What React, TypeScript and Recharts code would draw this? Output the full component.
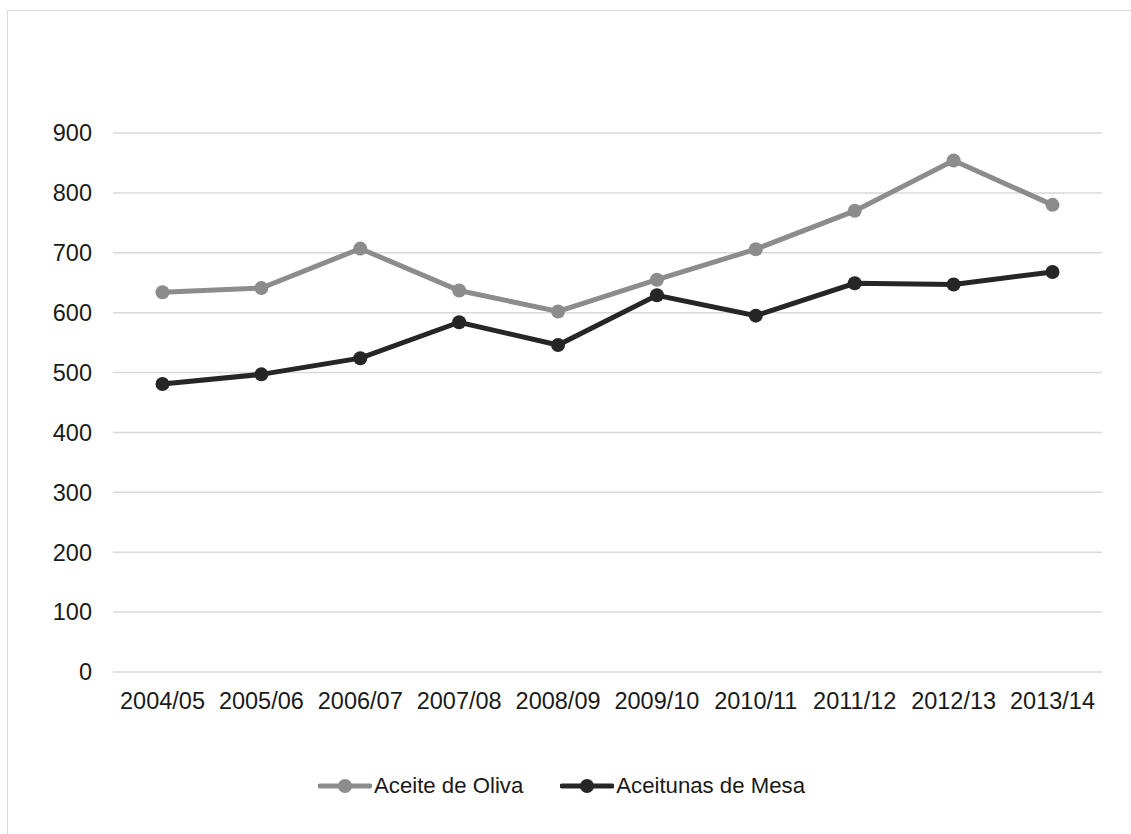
import React from 'react';
import { LineChart, Line, XAxis, YAxis, CartesianGrid, Legend } from 'recharts';

const categories = ['2004/05', '2005/06', '2006/07', '2007/08', '2008/09', '2009/10', '2010/11', '2011/12', '2012/13', '2013/14'];
const aceiteDeOliva = [634, 641, 707, 637, 602, 655, 706, 770, 854, 780];
const aceitunasDeMesa = [481, 497, 524, 584, 546, 629, 595, 649, 647, 668];
const yTicks = [0, 100, 200, 300, 400, 500, 600, 700, 800, 900];

const seriesNames = ['Aceite de Oliva', 'Aceitunas de Mesa'];
const seriesColors = ['#8c8c8c', '#262626'];

const data = categories.map((c, i) => ({
  cat: c,
  a: aceiteDeOliva[i],
  b: aceitunasDeMesa[i],
}));

const FONT = '"Liberation Sans", Arial, sans-serif';

const LegendContent = () => (
  <div style={{ display: 'flex', justifyContent: 'center', paddingLeft: 21, fontFamily: FONT, fontSize: 22.2, color: '#1a1a1a' }}>
    {seriesNames.map((n, i) => (
      <div key={n} style={{ display: 'flex', alignItems: 'center', marginLeft: i === 0 ? 0 : 37 }}>
        <svg width={54} height={16} style={{ marginRight: 2 }}>
          <line x1={2} y1={8} x2={52} y2={8} stroke={seriesColors[i]} strokeWidth={5} strokeLinecap="round" />
          <circle cx={27} cy={8} r={7} fill={seriesColors[i]} />
        </svg>
        <span>{n}</span>
      </div>
    ))}
  </div>
);

export default function App() {
  return (
    <div style={{ position: 'absolute', left: 0, top: 0, width: 1131, height: 834, overflow: 'hidden', background: '#fff' }}>
      <div style={{ position: 'absolute', left: 7, top: 10, width: 1140, height: 840, border: '1px solid #d9d9d9', boxSizing: 'border-box' }} />
      <div style={{ position: 'absolute', left: 0, top: 0 }}>
        <LineChart width={1131} height={834} data={data} margin={{ top: 133, right: 29, left: 0, bottom: 11 }}>
          <CartesianGrid vertical={false} stroke="#d9d9d9" strokeWidth={1.5} />
          <XAxis
            dataKey="cat"
            axisLine={false}
            tickLine={false}
            tickSize={6}
            tickMargin={14}
            height={101}
            interval={0}
            padding={{ left: 49.5, right: 49.5 }}
            tick={{ fill: '#1a1a1a', fontSize: 23.5, fontFamily: FONT }}
          />
          <YAxis
            domain={[0, 900]}
            ticks={yTicks}
            axisLine={false}
            tickLine={false}
            tickSize={6}
            tickMargin={15}
            width={113}
            tick={{ fill: '#1a1a1a', fontSize: 23.5, fontFamily: FONT }}
          />
          <Legend verticalAlign="bottom" height={50} content={<LegendContent />} />
          <Line
            dataKey="a"
            name={seriesNames[0]}
            stroke={seriesColors[0]}
            strokeWidth={5}
            dot={{ r: 7, fill: seriesColors[0], stroke: 'none' }}
            activeDot={false}
            isAnimationActive={false}
          />
          <Line
            dataKey="b"
            name={seriesNames[1]}
            stroke={seriesColors[1]}
            strokeWidth={5}
            dot={{ r: 7, fill: seriesColors[1], stroke: 'none' }}
            activeDot={false}
            isAnimationActive={false}
          />
        </LineChart>
      </div>
    </div>
  );
}
